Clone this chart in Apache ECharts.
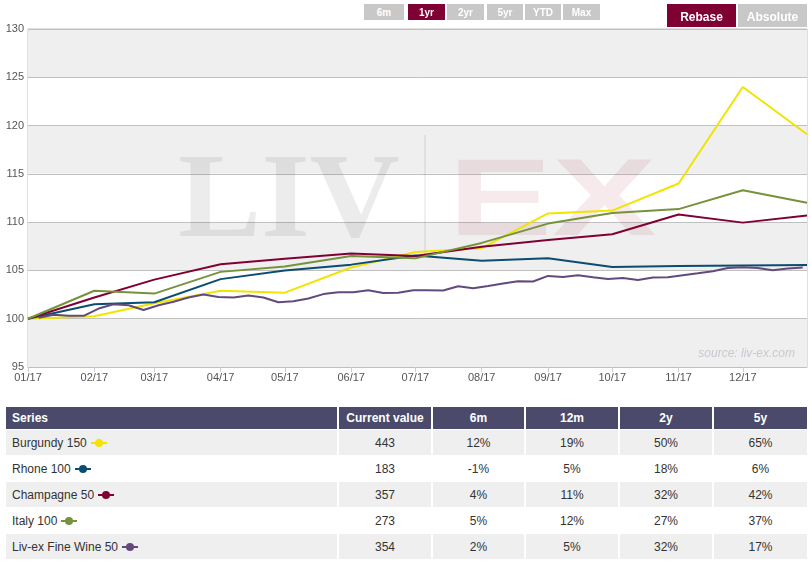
<!DOCTYPE html>
<html>
<head>
<meta charset="utf-8">
<title>Liv-ex indices 2017 (rebased)</title>
<script src="https://cdn.jsdelivr.net/npm/echarts@6/dist/echarts.min.js"></script>
<style>
  body { margin: 0; background: #fff; font-family: 'Liberation Sans', Arial, sans-serif; }
  #wrap { position: relative; width: 811px; height: 566px; overflow: hidden; }
  #chart { position: absolute; left: 0; top: 0; width: 811px; height: 400px; }
  .btn { position: absolute; top: 4px; height: 16px; line-height: 17px; background: #c8c8c8; color: #fff;
         font-weight: bold; font-size: 10px; text-align: center; }
  .btn.on { background: #7f0033; }
  .mode { height: 23px; line-height: 27px; font-size: 12px; }
  table { position: absolute; left: 6px; top: 407px; width: 801px; border-collapse: collapse;
          font-size: 12px; color: #333; table-layout: fixed; }
  th { background: #4b4a6b; color: #fff; height: 22px; padding: 0; font-weight: bold; border-left: 2px solid #fff; }
  td { height: 25px; padding: 0; text-align: center; border-left: 2px solid #fff; border-top: 1px solid #fff; }
  th:first-child, td:first-child { border-left: none; text-align: left; padding-left: 6px; }
  tr:nth-child(even) td { background: #efefef; }
  .mk { display: inline-block; position: relative; width: 16px; height: 2px; margin-left: 4px; vertical-align: middle; }
  .mk i { position: absolute; left: 4px; top: -3px; width: 8px; height: 8px; border-radius: 50%; }
</style>
</head>
<body>
<div id="wrap">
  <div id="chart"></div>
  <div class="btn" style="left:364px;width:40px">6m</div>
  <div class="btn on" style="left:408px;width:37px">1yr</div>
  <div class="btn" style="left:447px;width:37px">2yr</div>
  <div class="btn" style="left:487px;width:36px">5yr</div>
  <div class="btn" style="left:525px;width:36px">YTD</div>
  <div class="btn" style="left:563px;width:37px">Max</div>
  <div class="btn mode on" style="left:667px;width:69px">Rebase</div>
  <div class="btn mode" style="left:738px;width:69px">Absolute</div>
  <table id="tbl"></table>
</div>
<script>
const DAY = 24 * 3600 * 1000

// monthly points (start of month + last day)
const monthDates = ['2017-01-01', '2017-02-01', '2017-03-01', '2017-04-01', '2017-05-01', '2017-06-01',
  '2017-07-01', '2017-08-01', '2017-09-01', '2017-10-01', '2017-11-01', '2017-12-01', '2017-12-31']
const burgundy = [100, 100.25, 101.6, 102.9, 102.7, 105.3, 106.9, 107.3, 110.9, 111.2, 114.0, 124.0, 119.1]
const rhone = [100, 101.5, 101.7, 104.1, 105.0, 105.6, 106.55, 106.0, 106.25, 105.35, 105.45, 105.5, 105.55]
const champagne = [100, 102.2, 104.05, 105.65, 106.2, 106.75, 106.5, 107.45, 108.15, 108.75, 110.8, 109.95, 110.7]
const italy = [100, 102.9, 102.6, 104.85, 105.4, 106.5, 106.25, 107.85, 109.85, 110.95, 111.35, 113.3, 112.0]

// Liv-ex Fine Wine 50 is weekly (Fridays from 6 Jan)
const fw50Start = '2017-01-06'
const fineWine50 = [100.1, 100.4, 100.3, 100.3, 101.05, 101.5, 101.4, 100.9, 101.4, 101.75,
  102.2, 102.5, 102.25, 102.2, 102.4, 102.2, 101.7, 101.8, 102.1, 102.55,
  102.75, 102.75, 102.95, 102.67, 102.7, 102.95, 102.95, 102.92, 103.36, 103.16,
  103.38, 103.64, 103.88, 103.85, 104.43, 104.33, 104.5, 104.3, 104.12, 104.22,
  104.02, 104.26, 104.3, 104.5, 104.7, 104.92, 105.26, 105.33, 105.26, 105.02,
  105.2, 105.3]

const seriesNames = ['Burgundy 150', 'Rhone 100', 'Champagne 50', 'Italy 100', 'Liv-ex Fine Wine 50']
const seriesColors = ['#f0e400', '#0a4d70', '#800034', '#76923c', '#634a7d']
const currentValues = [443, 183, 357, 273, 354]
const change6m = [12, -1, 4, 5, 2]
const change12m = [19, 5, 11, 12, 5]
const change2y = [50, 18, 32, 27, 32]
const change5y = [65, 6, 42, 37, 17]
const tableHeads = ['Series', 'Current value', '6m', '12m', '2y', '5y']
const colWidths = [332, 94, 93, 94, 94, 94]

function monthly(values) {
  return values.map((v, i) => [monthDates[i], v])
}

function weekly(start, values) {
  const t0 = new Date(start + 'T00:00:00').getTime()
  return values.map((v, i) => [t0 + i * 7 * DAY, v])
}

const lines = [monthly(burgundy), monthly(rhone), monthly(champagne), monthly(italy), weekly(fw50Start, fineWine50)]

const chart = echarts.init(document.getElementById('chart'))
chart.setOption({
  animation: false,
  textStyle: { fontFamily: 'Liberation Sans, Arial, sans-serif' },
  grid: { left: 28, right: 4, top: 29, bottom: 33, show: true, borderColor: '#c0c0c0', borderWidth: 1 },
  xAxis: {
    type: 'time',
    min: '2017-01-01',
    max: '2017-12-31',
    splitNumber: 12,
    minInterval: 28 * DAY,
    maxInterval: 31 * DAY,
    axisLine: { lineStyle: { color: '#c0c0c0' } },
    axisTick: { show: true, length: 5, lineStyle: { color: '#c0d0e0' } },
    splitLine: { show: false },
    axisLabel: {
      color: '#555',
      fontSize: 11,
      margin: 5,
      alignMinLabel: 'left',
      formatter: function(val) {
        const d = new Date(val)
        const m = d.getMonth() + 1
        return (m < 10 ? '0' + m : m) + '/' + String(d.getFullYear()).slice(2)
      }
    }
  },
  yAxis: {
    type: 'value',
    min: 95,
    max: 130,
    interval: 5,
    axisLine: { show: false },
    axisTick: { show: false },
    axisLabel: { color: '#555', fontSize: 11, margin: 4 },
    splitLine: { lineStyle: { color: '#c0c0c0' } },
    // first band (95-100) is grey
    splitArea: { show: true, areaStyle: { color: ['#efefef', '#ffffff'] } }
  },
  graphic: [
    {
      type: 'text', x: 178, y: 205, z: 1, silent: true, scaleX: 1.04,
      style: { text: 'LIV', font: 'bold 120px "Liberation Serif"', fill: 'rgba(0,0,0,0.075)', align: 'left', verticalAlign: 'middle' }
    },
    {
      type: 'rect', z: 1, silent: true,
      shape: { x: 424, y: 135, width: 2, height: 122 },
      style: { fill: 'rgba(90,90,140,0.1)' }
    },
    {
      type: 'text', x: 448, y: 205, z: 1, silent: true, scaleX: 1.42,
      style: { text: 'EX', font: 'bold 110px "Liberation Sans"', fill: 'rgba(150,20,60,0.09)', align: 'left', verticalAlign: 'middle' }
    },
    {
      type: 'text', x: 795, y: 354, z: 1, silent: true,
      style: { text: 'source: liv-ex.com', font: 'italic 12px "Liberation Sans"', fill: '#c8c8d2', align: 'right', verticalAlign: 'middle' }
    }
  ],
  series: lines.map((data, i) => ({
    name: seriesNames[i],
    type: 'line',
    data: data,
    symbol: 'none',
    lineStyle: { width: 2, color: seriesColors[i] },
    itemStyle: { color: seriesColors[i] }
  }))
})

// table under the chart
const tbl = document.getElementById('tbl')
let html = '<colgroup>' + colWidths.map(w => '<col style="width:' + w + 'px">').join('') + '</colgroup>'
html += '<tr>' + tableHeads.map(h => '<th>' + h + '</th>').join('') + '</tr>'
seriesNames.forEach((name, i) => {
  const c = seriesColors[i]
  html += '<tr>' +
    '<td>' + name + '<span class="mk" style="background:' + c + '"><i style="background:' + c + '"></i></span></td>' +
    '<td>' + currentValues[i] + '</td>' +
    '<td>' + change6m[i] + '%</td>' +
    '<td>' + change12m[i] + '%</td>' +
    '<td>' + change2y[i] + '%</td>' +
    '<td>' + change5y[i] + '%</td>' +
    '</tr>'
})
tbl.innerHTML = html
</script>
</body>
</html>
